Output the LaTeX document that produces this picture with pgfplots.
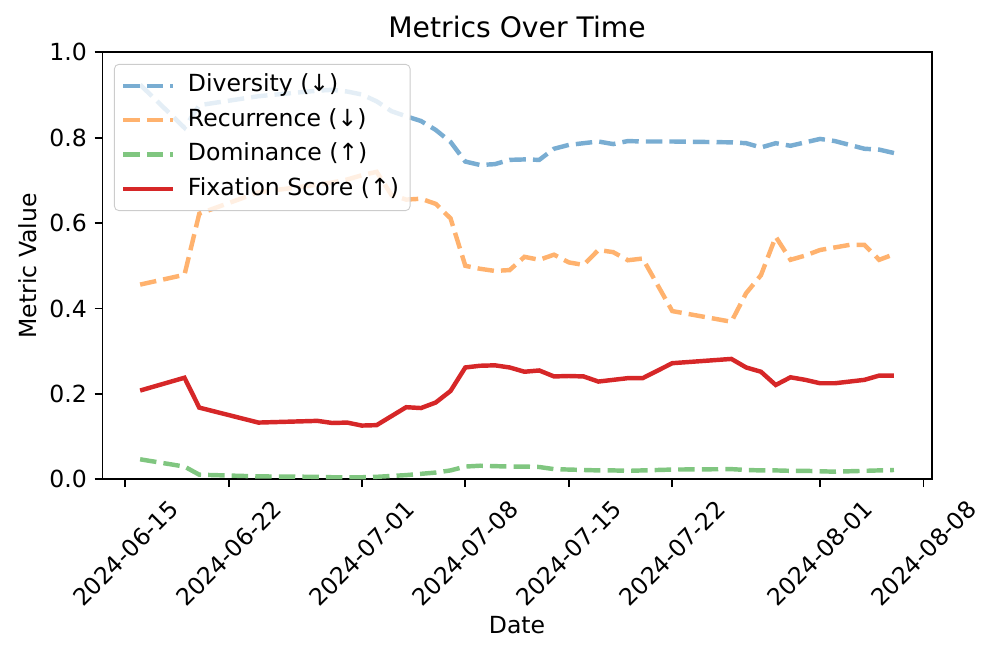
\documentclass[border=0pt]{standalone}
\usepackage{fontspec}
\setmainfont{DejaVu Sans}
\usepackage{graphicx}
\usepackage{pgfplots}
\usepackage{pgfplotstable}
\pgfplotsset{compat=1.18}

\definecolor{divc}{RGB}{121,173,210}
\definecolor{recc}{RGB}{255,178,110}
\definecolor{domc}{RGB}{128,198,128}
\definecolor{fixc}{RGB}{214,39,40}

% day = days after 2024-06-15
\pgfplotstableread{
day div   rec   dom   fix
1   0.924 0.456 0.047 0.208
4   0.823 0.479 0.030 0.238
5   0.876 0.622 0.011 0.168
9   0.897 0.672 0.007 0.133
13  0.910 0.690 0.006 0.137
14  0.912 0.695 0.005 0.132
15  0.908 0.702 0.005 0.133
16  0.901 0.712 0.005 0.126
17  0.885 0.720 0.006 0.127
18  0.862 0.666 0.008 0.148
19  0.850 0.655 0.010 0.169
20  0.839 0.657 0.013 0.167
21  0.818 0.645 0.016 0.180
22  0.790 0.611 0.021 0.207
23  0.744 0.500 0.030 0.262
24  0.736 0.493 0.032 0.266
25  0.738 0.488 0.031 0.267
26  0.748 0.490 0.030 0.262
27  0.749 0.521 0.030 0.252
28  0.748 0.514 0.029 0.255
29  0.774 0.526 0.024 0.241
30  0.783 0.508 0.023 0.242
31  0.787 0.502 0.022 0.241
32  0.791 0.537 0.021 0.229
33  0.785 0.532 0.021 0.233
34  0.792 0.513 0.020 0.237
35  0.791 0.517 0.021 0.237
37  0.791 0.394 0.023 0.272
41  0.789 0.369 0.024 0.282
42  0.787 0.436 0.022 0.262
43  0.777 0.478 0.021 0.252
44  0.787 0.568 0.021 0.221
45  0.781 0.514 0.020 0.239
46  0.789 0.524 0.020 0.233
47  0.797 0.537 0.019 0.225
48  0.792 0.543 0.018 0.225
49  0.783 0.549 0.019 0.229
50  0.774 0.549 0.020 0.233
51  0.772 0.514 0.021 0.243
52  0.764 0.527 0.022 0.243
}\metrics

\begin{document}
\begin{tikzpicture}
\begin{axis}[
  name=ax,
  width=373.1pt, height=192.2pt, scale only axis,
  font=\fontsize{10.6}{12.7}\selectfont,
  xmin=-1.55, xmax=54.55, ymin=0, ymax=1,
  xtick={0,7,16,23,30,37,47,54},
  xticklabels={\rotatebox{45}{2024-06-15},\rotatebox{45}{2024-06-22},
    \rotatebox{45}{2024-07-01},\rotatebox{45}{2024-07-08},
    \rotatebox{45}{2024-07-15},\rotatebox{45}{2024-07-22},
    \rotatebox{45}{2024-08-01},\rotatebox{45}{2024-08-08}},
  xticklabel style={anchor=north, inner sep=0pt, yshift=-5pt},
  ytick={0,0.2,0.4,0.6,0.8,1.0},
  yticklabel style={/pgf/number format/.cd, fixed, fixed zerofill, precision=1},
  /pgf/number format/assume math mode=true,
  tick align=outside, xtick pos=left, ytick pos=left,
  major tick length=3.5pt,
  every tick/.style={black, line width=0.8pt},
  axis line style={line width=0.8pt},
  title={Metrics Over Time},
  title style={font=\fontsize{12.7}{15}\selectfont, at={(axis description cs:0.5,1.003)}, anchor=base},
  xlabel={Date},
  xlabel style={at={(axis description cs:0.5,-0.3615)}, anchor=base},
  ylabel={Metric Value},
  ylabel style={at={(axis description cs:-0.0791,0.5)}, anchor=base, rotate=0},
  legend cell align=left,
  legend image code/.code={\draw[#1] (0pt,0pt) -- (22.5pt,0pt);},
  legend style={at={(axis description cs:0.0139,0.9726)}, anchor=north west,
    draw=black!20, fill=white, fill opacity=0.8, text opacity=1, draw opacity=1,
    rounded corners=2pt, inner xsep=3pt, inner ysep=2.5pt, row sep=1.2pt,
    column sep=3.6pt,
    nodes={text height=7.8pt, text depth=2.5pt, inner sep=2pt},
    font=\fontsize{10.6}{12.7}\selectfont},
]
\addplot[divc, line width=2pt, dash pattern=on 7.4pt off 3.2pt] table[x=day, y=div] {\metrics};
\addlegendentry{Diversity (↓)}
\addplot[recc, line width=2pt, dash pattern=on 7.4pt off 3.2pt] table[x=day, y=rec] {\metrics};
\addlegendentry{Recurrence (↓)}
\addplot[domc, line width=2pt, dash pattern=on 7.4pt off 3.2pt] table[x=day, y=dom] {\metrics};
\addlegendentry{Dominance (↑)}
\addplot[fixc, line width=2pt] table[x=day, y=fix] {\metrics};
\addlegendentry{Fixation Score (↑)}
\end{axis}
\path[use as bounding box] ([xshift=-46.1pt,yshift=-80.4pt]ax.south west)
  rectangle ([xshift=29.4pt,yshift=23.5pt]ax.north east);
\end{tikzpicture}
\end{document}
